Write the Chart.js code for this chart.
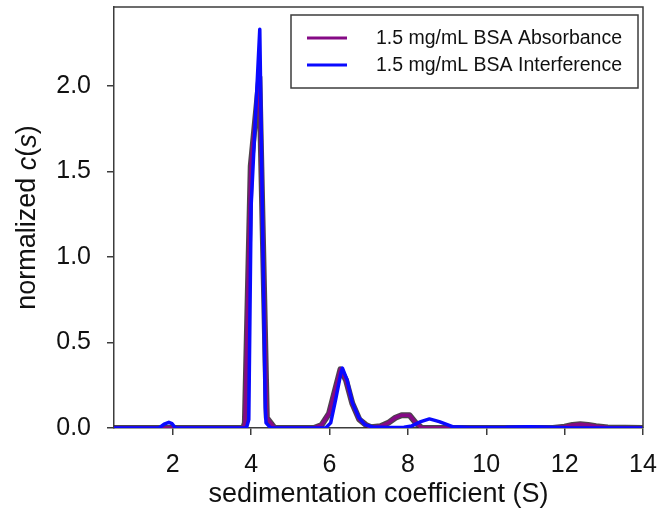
<!DOCTYPE html>
<html>
<head>
<meta charset="utf-8">
<script src="https://cdn.jsdelivr.net/npm/chart.js@4"></script>
<style>
  html, body { margin: 0; padding: 0; background: #fff; }
  #wrap { width: 657px; height: 511px; }
</style>
</head>
<body>
<div id="wrap"><canvas id="myChart" width="657" height="511"></canvas></div>
<script>
// sedimentation coefficient (S) and normalized c(s)
const sAbs = [0.5, 3.6, 3.8, 3.84, 3.99, 4.21, 4.4, 4.6, 5.6, 5.8, 5.99, 6.28, 6.42, 6.58, 6.76, 6.93, 7.06, 7.3, 7.5, 7.68, 7.84, 8.04, 8.2, 8.36, 11.7, 12.0, 12.2, 12.4, 12.6, 12.8, 13.1, 14];
const cAbs = [0, 0, 0, 0.03, 1.53, 2.05, 0.06, 0, 0, 0.018, 0.086, 0.343, 0.28, 0.145, 0.05, 0.018, 0.004, 0.01, 0.03, 0.06, 0.075, 0.075, 0.03, 0, 0, 0.008, 0.018, 0.022, 0.018, 0.01, 0.003, 0];

const sInt = [0.5, 1.65, 1.78, 1.9, 1.98, 2.07, 3.88, 3.94, 4.0, 4.22, 4.36, 4.38, 4.5, 5.9, 6.03, 6.16, 6.29, 6.33, 6.45, 6.58, 6.75, 6.9, 7.1, 7.5, 7.9, 8.1, 8.33, 8.55, 8.8, 9.14, 9.6, 10.5, 11.1, 11.6, 12.2, 14];
const cInt = [0, 0, 0.022, 0.033, 0.025, 0, 0, 0.05, 1.3, 2.33, 0.12, 0.03, 0, 0, 0.03, 0.17, 0.32, 0.35, 0.28, 0.15, 0.06, 0.02, 0.006, 0.003, 0.005, 0.012, 0.037, 0.053, 0.037, 0.008, 0.003, 0.004, 0.008, 0.004, 0, 0];

const seriesLabels = ['1.5 mg/mL BSA Absorbance', '1.5 mg/mL BSA Interference'];
const seriesColors = ['#850a85', '#0a0aff'];

const xTicks = [2, 4, 6, 8, 10, 12, 14];
const yTicks = [0, 0.5, 1.0, 1.5, 2.0];

const toPoints = (xs, ys) => xs.map((x, i) => ({ x: x, y: ys[i] }));

const frameColor = '#3c3c3c';
const fontFamily = '"Liberation Sans", Arial, sans-serif';

// top/right frame, y title with italic c(s), boxed legend
const extras = {
    id: 'extras',
    afterDraw(chart) {
        const { ctx, chartArea: a } = chart;
        ctx.save();
        ctx.strokeStyle = frameColor;
        ctx.lineWidth = 1.5;
        ctx.beginPath();
        ctx.moveTo(a.left, a.top);
        ctx.lineTo(a.right, a.top);
        ctx.lineTo(a.right, a.bottom);
        ctx.stroke();

        // y axis title
        ctx.translate(28, (a.top + a.bottom) / 2);
        ctx.rotate(-Math.PI / 2);
        ctx.fillStyle = '#111';
        ctx.textBaseline = 'middle';
        const parts = [['normalized ', ''], ['c', 'italic '], ['(', ''], ['s', 'italic '], [')', '']];
        let total = 0;
        parts.forEach(p => { ctx.font = p[1] + '27px ' + fontFamily; total += ctx.measureText(p[0]).width; });
        let x = -total / 2;
        parts.forEach(p => {
            ctx.font = p[1] + '27px ' + fontFamily;
            ctx.textAlign = 'left';
            ctx.fillText(p[0], x, 0);
            x += ctx.measureText(p[0]).width;
        });
        ctx.restore();

        // legend
        ctx.save();
        ctx.strokeStyle = frameColor;
        ctx.lineWidth = 1.5;
        ctx.strokeRect(291, 15, 347, 73);
        ctx.font = '19.5px ' + fontFamily;
        ctx.textBaseline = 'middle';
        ctx.fillStyle = '#111';
        seriesLabels.forEach((lab, i) => {
            const y = 38 + i * 27;
            ctx.strokeStyle = seriesColors[i];
            ctx.lineWidth = 3;
            ctx.beginPath();
            ctx.moveTo(307, y);
            ctx.lineTo(347, y);
            ctx.stroke();
            ctx.fillText(lab, 376, y + 1);
        });
        ctx.restore();
    }
};

const config = {
    type: 'line',
    data: {
        datasets: [
            {
                label: seriesLabels[1],
                data: toPoints(sInt, cInt),
                borderColor: seriesColors[1],
                borderWidth: 3.5,
                order: 0
            },
            {
                label: seriesLabels[0],
                data: toPoints(sAbs, cAbs),
                borderColor: seriesColors[0],
                borderWidth: 3.5,
                order: 1
            },
            {
                label: 'outline',
                data: toPoints(sAbs, cAbs),
                borderColor: 'rgba(45,35,45,0.85)',
                borderWidth: 6,
                order: 2
            }
        ]
    },
    options: {
        responsive: false,
        animation: false,
        elements: {
            point: { radius: 0 },
            line: { tension: 0, borderJoinStyle: 'round', borderCapStyle: 'round', fill: false }
        },
        layout: { padding: { top: 7, right: 14, left: 0, bottom: 0 } },
        plugins: {
            legend: { display: false },
            tooltip: { enabled: false }
        },
        scales: {
            x: {
                type: 'linear',
                min: 0.5,
                max: 14,
                afterBuildTicks: s => { s.ticks = xTicks.map(v => ({ value: v })); },
                afterFit: s => { s.height = 83; s.paddingLeft = 0; s.paddingRight = 0; },
                grid: { drawOnChartArea: false, drawTicks: true, tickLength: 7, color: frameColor, lineWidth: 1.5 },
                border: { color: frameColor, width: 1.5 },
                ticks: { color: '#111', font: { family: fontFamily, size: 25 }, padding: 15, maxRotation: 0 },
                title: { display: true, text: 'sedimentation coefficient (S)', color: '#111', font: { family: fontFamily, size: 27 }, padding: { top: 0, bottom: 0 } }
            },
            y: {
                min: 0,
                max: 2.46,
                afterBuildTicks: s => { s.ticks = yTicks.map(v => ({ value: v })); },
                afterFit: s => { s.width = 114; s.paddingTop = 0; s.paddingBottom = 0; },
                grid: { drawOnChartArea: false, drawTicks: true, tickLength: 7, color: frameColor, lineWidth: 1.5 },
                border: { color: frameColor, width: 1.5 },
                ticks: { color: '#111', font: { family: fontFamily, size: 25 }, padding: 16, callback: v => v.toFixed(1) }
            }
        }
    },
    plugins: [extras]
};

const ctx = document.getElementById('myChart').getContext('2d');
const myChart = new Chart(ctx, config);
</script>
</body>
</html>
